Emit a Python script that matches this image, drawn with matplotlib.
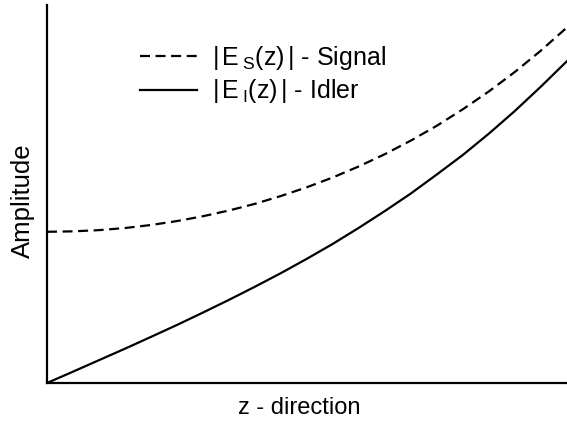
import numpy as np
import matplotlib
matplotlib.use('Agg')
import matplotlib.pyplot as plt

plt.rcParams['font.family'] = ['Liberation Sans', 'DejaVu Sans']
plt.rcParams['mathtext.fontset'] = 'custom'
plt.rcParams['mathtext.rm'] = 'Liberation Sans'
plt.rcParams['mathtext.it'] = 'Liberation Sans'

# ===== Field amplitudes along propagation =====
z = [0.00, 0.05, 0.10, 0.15, 0.20, 0.25, 0.30, 0.35, 0.40, 0.45, 0.50,
     0.55, 0.60, 0.65, 0.70, 0.75, 0.80, 0.85, 0.90, 0.95, 1.00]
signal = [1.000, 1.003, 1.011, 1.025, 1.045, 1.071, 1.103, 1.141, 1.185, 1.237, 1.295,
          1.360, 1.433, 1.514, 1.604, 1.702, 1.811, 1.929, 2.058, 2.199, 2.352]
idler = [0.000, 0.075, 0.151, 0.227, 0.305, 0.384, 0.466, 0.550, 0.637, 0.727, 0.822,
         0.921, 1.027, 1.138, 1.254, 1.380, 1.509, 1.650, 1.800, 1.961, 2.129]

fig = plt.figure(figsize=(5.67, 4.23), dpi=100)
ax = fig.add_axes([47/567, 40/423, 520/567, 378/423])

ax.plot(z, signal, color='black', lw=1.6, linestyle=(0, (4.5, 2.5)),
        label=r'$\mathrm{|\,E\,_{S}(z)\,|}$ - Signal')
ax.plot(z, idler, color='black', lw=1.6,
        label=r'$\mathrm{|\,E\,_{I}(z)\,|}$ - Idler')

ax.set_xlim(0, 1)
ax.set_ylim(0, 2.5)
ax.set_xticks([])
ax.set_yticks([])
for side in ['top', 'right']:
    ax.spines[side].set_visible(False)
for side in ['left', 'bottom']:
    ax.spines[side].set_linewidth(1.6)

ax.set_xlabel('z - direction', fontsize=17)
ax.xaxis.set_label_coords(0.485, -0.037)
ax.set_ylabel('Amplitude', fontsize=18.5)
ax.yaxis.set_label_coords(-0.024, 0.481)

ax.legend(loc='upper left', bbox_to_anchor=(0.179, 0.897), frameon=False,
          borderpad=0, borderaxespad=0,
          fontsize=18, handlelength=2.28, handletextpad=0.6, labelspacing=0.22)

fig.savefig('out.png', dpi=100)
